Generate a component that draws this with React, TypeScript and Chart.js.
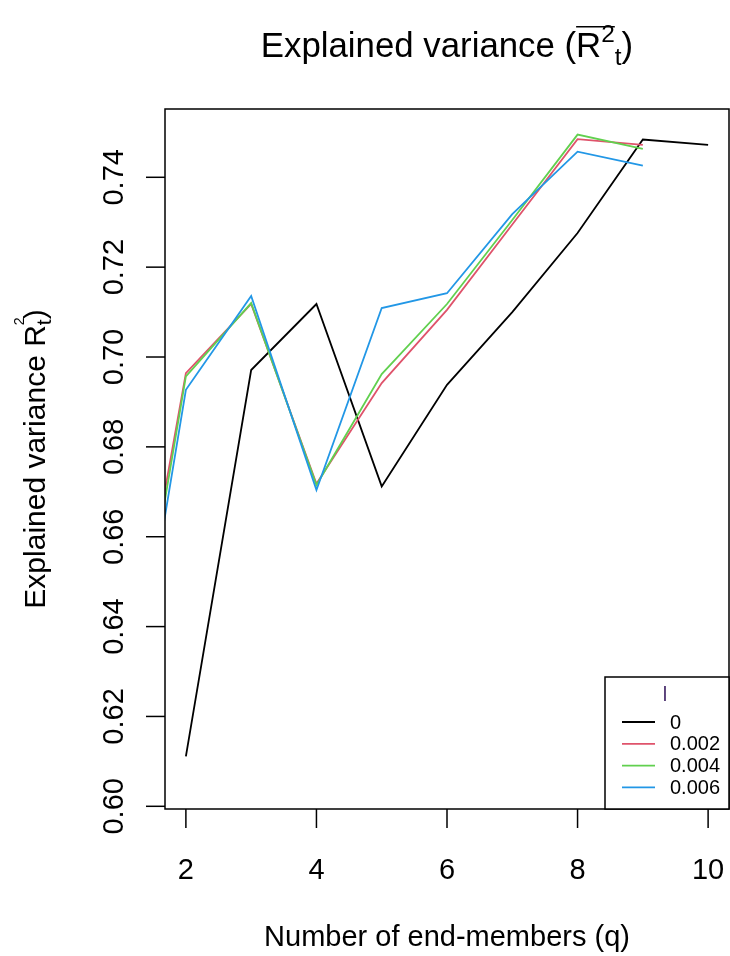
import React, { useEffect, useRef } from "react";
import { Chart, registerables } from "chart.js";

Chart.register(...registerables);

// ---- data ----
const qValues = [1, 2, 3, 4, 5, 6, 7, 8, 9, 10];
const seriesLabels = ["0", "0.002", "0.004", "0.006"];
const seriesColors = ["#000000", "#DF536B", "#61D04F", "#2297E6"];
const l0 = [null, 0.6111, 0.6971, 0.7118, 0.6712, 0.6938, 0.7100, 0.7276, 0.7484, 0.7472];
const l002 = [0.615, 0.6964, 0.7118, 0.6718, 0.6942, 0.7105, 0.7295, 0.7485, 0.7472, null];
const l004 = [0.610, 0.6957, 0.7120, 0.6715, 0.6962, 0.7118, 0.7305, 0.7495, 0.7463, null];
const l006 = [0.605, 0.6927, 0.7136, 0.6704, 0.7109, 0.7142, 0.7318, 0.7457, 0.7426, null];
const xTicks = [2, 4, 6, 8, 10];
const yTicks = [0.6, 0.62, 0.64, 0.66, 0.68, 0.7, 0.72, 0.74];
const yTickLabels = ["0.60", "0.62", "0.64", "0.66", "0.68", "0.70", "0.72", "0.74"];
const legendTitle = "l";
const xTitle = "Number of end-members (q)";

const FONT = '"Liberation Sans", Arial, sans-serif';

type Part = { t: string; size: number; dy?: number; overlineStart?: boolean; overlineEnd?: boolean; noAdvance?: boolean };

function drawRich(ctx: CanvasRenderingContext2D, parts: Part[], cx: number, baseline: number) {
  let total = 0;
  const widths = parts.map((p) => {
    ctx.font = `${p.size}px ${FONT}`;
    const w = ctx.measureText(p.t).width;
    if (!p.noAdvance) total += w;
    return w;
  });
  let x = cx - total / 2;
  let olStart = 0;
  let olTop = 0;
  ctx.textBaseline = "alphabetic";
  ctx.textAlign = "left";
  parts.forEach((p, i) => {
    ctx.font = `${p.size}px ${FONT}`;
    if (p.overlineStart) olStart = x;
    ctx.fillText(p.t, x, baseline + (p.dy || 0));
    const top = baseline + (p.dy || 0) - p.size * 0.78;
    if (p.overlineStart || p.overlineEnd) olTop = Math.min(olTop || top, top);
    if (!p.noAdvance) x += widths[i];
    if (p.overlineEnd) {
      ctx.save();
      ctx.lineWidth = 1.5;
      ctx.beginPath();
      ctx.moveTo(olStart, olTop - 3);
      ctx.lineTo(x, olTop - 3);
      ctx.stroke();
      ctx.restore();
    }
  });
}

const decorPlugin = {
  id: "decor",
  afterDraw(chart: any) {
    const ctx: CanvasRenderingContext2D = chart.ctx;
    const area = chart.chartArea;
    const xs = chart.scales.x;
    const ys = chart.scales.y;
    ctx.save();
    ctx.fillStyle = "#000";
    ctx.strokeStyle = "#000";
    ctx.lineWidth = 1.5;
    // box
    ctx.strokeRect(area.left, area.top, area.right - area.left, area.bottom - area.top);
    // x ticks
    ctx.font = `29px ${FONT}`;
    ctx.textAlign = "center";
    ctx.textBaseline = "alphabetic";
    xTicks.forEach((v) => {
      const px = xs.getPixelForValue(v);
      ctx.beginPath();
      ctx.moveTo(px, area.bottom);
      ctx.lineTo(px, area.bottom + 19);
      ctx.stroke();
      ctx.fillText(String(v), px, 879);
    });
    // y ticks
    yTicks.forEach((v, i) => {
      const py = ys.getPixelForValue(v);
      ctx.beginPath();
      ctx.moveTo(area.left, py);
      ctx.lineTo(area.left - 19, py);
      ctx.stroke();
      ctx.save();
      ctx.translate(123, py);
      ctx.rotate(-Math.PI / 2);
      ctx.textAlign = "center";
      ctx.fillText(yTickLabels[i], 0, 0);
      ctx.restore();
    });
    // x title
    ctx.font = `29px ${FONT}`;
    ctx.textAlign = "center";
    ctx.fillText(xTitle, (area.left + area.right) / 2, 946);
    // main title
    const cx = (area.left + area.right) / 2;
    drawRich(
      ctx,
      [
        { t: "Explained variance (", size: 34.8 },
        { t: "R", size: 34.8, overlineStart: true },
        { t: "2", size: 24.4, dy: -15 },
        { t: "", size: 24.4, overlineEnd: true },
        { t: "t", size: 24.4, dy: 8 },
        { t: ")", size: 34.8 },
      ],
      cx,
      57
    );
    // y title (rotated)
    ctx.save();
    ctx.translate(45, (area.top + area.bottom) / 2);
    ctx.rotate(-Math.PI / 2);
    drawRich(
      ctx,
      [
        { t: "Explained variance R", size: 30 },
        { t: "2", size: 14, dy: -21, noAdvance: true },
        { t: "t", size: 21, dy: 6 },
        { t: ")", size: 30 },
      ],
      0,
      0
    );
    ctx.restore();
    // legend
    const lx0 = 605;
    const ly0 = 677;
    ctx.fillStyle = "#fff";
    ctx.fillRect(lx0, ly0, area.right - lx0, area.bottom - ly0);
    ctx.strokeRect(lx0, ly0, area.right - lx0, area.bottom - ly0);
    ctx.font = `20px ${FONT}`;
    ctx.textAlign = "center";
    ctx.textBaseline = "middle";
    ctx.fillStyle = "#4a2f6e";
    ctx.fillText(legendTitle, 665, 695);
    ctx.textAlign = "left";
    seriesLabels.forEach((lab, i) => {
      const y = 722 + i * 21.8;
      ctx.strokeStyle = seriesColors[i];
      ctx.lineWidth = 1.8;
      ctx.beginPath();
      ctx.moveTo(622, y);
      ctx.lineTo(655, y);
      ctx.stroke();
      ctx.fillStyle = "#000";
      ctx.fillText(lab, 670, y + 1);
    });
    ctx.restore();
  },
};

function toPoints(arr: (number | null)[]) {
  const out: { x: number; y: number }[] = [];
  arr.forEach((v, i) => {
    if (v !== null) out.push({ x: qValues[i], y: v });
  });
  return out;
}

export default function App() {
  const ref = useRef<HTMLCanvasElement | null>(null);
  useEffect(() => {
    document.body.style.margin = "0";
    const all = [l0, l002, l004, l006];
    const chart = new Chart(ref.current as HTMLCanvasElement, {
      type: "line",
      data: {
        datasets: all.map((arr, i) => ({
          label: seriesLabels[i],
          data: toPoints(arr),
          borderColor: seriesColors[i],
          backgroundColor: seriesColors[i],
          borderWidth: 1.8,
          pointRadius: 0,
          tension: 0,
          fill: false,
          order: 4 - i,
        })),
      },
      options: {
        animation: false,
        responsive: false,
        devicePixelRatio: 1,
        events: [],
        layout: { padding: { left: 165, top: 109, right: 1, bottom: 147 } },
        scales: {
          x: { type: "linear", min: 1.68, max: 10.32, display: false },
          y: { type: "linear", min: 0.5994, max: 0.7552, display: false },
        },
        plugins: { legend: { display: false }, tooltip: { enabled: false }, title: { display: false } },
      },
      plugins: [decorPlugin],
    } as any);
    return () => chart.destroy();
  }, []);
  return (
    <div style={{ position: "absolute", left: 0, top: 0, width: 730, height: 956, background: "#fff" }}>
      <canvas ref={ref} width={730} height={956} style={{ width: 730, height: 956, display: "block" }} />
    </div>
  );
}
